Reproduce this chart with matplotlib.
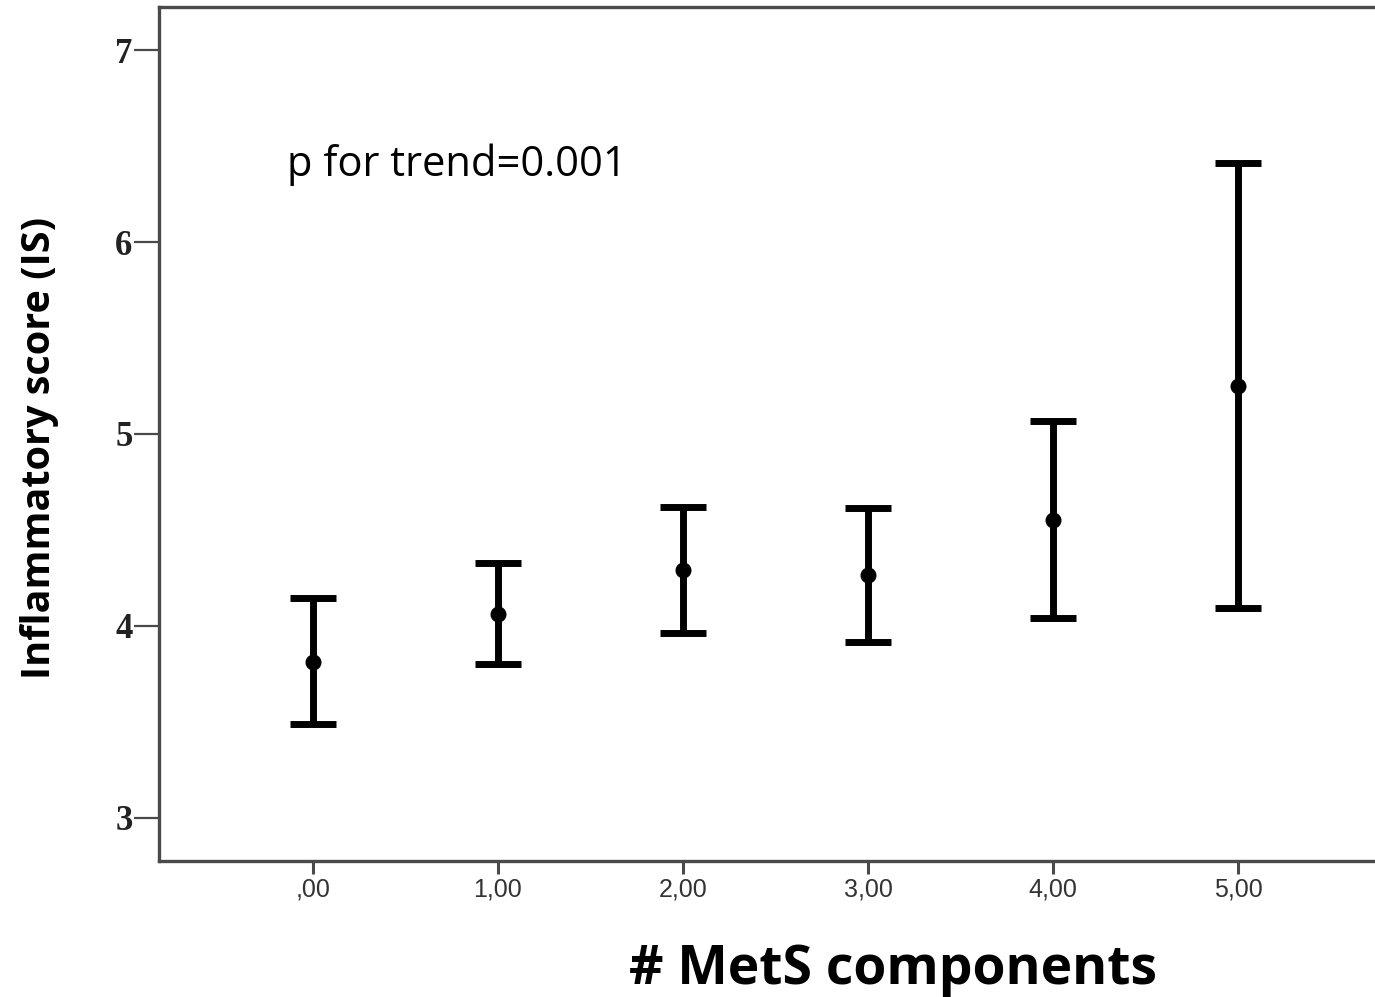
import matplotlib
matplotlib.use("Agg")
import matplotlib.pyplot as plt

# Inflammatory score by number of MetS components (mean with 95% CI)
components = [0, 1, 2, 3, 4, 5]
tick_labels = [",00", "1,00", "2,00", "3,00", "4,00", "5,00"]
means = [3.815, 4.063, 4.292, 4.266, 4.552, 5.250]
ci_lower = [3.489, 3.801, 3.962, 3.919, 4.040, 4.092]
ci_upper = [4.144, 4.326, 4.621, 4.612, 5.067, 6.410]
y_ticks = [3, 4, 5, 6, 7]

fig = plt.figure(figsize=(13.75, 9.97), dpi=100)
ax = fig.add_axes([159 / 1375, 1 - 861 / 997, (1392 - 159) / 1375, (861 - 7) / 997])

err_low = [m - lo for m, lo in zip(means, ci_lower)]
err_high = [hi - m for m, hi in zip(means, ci_upper)]
ax.errorbar(components, means, yerr=[err_low, err_high], fmt="o", color="black",
            ecolor="black", elinewidth=5, capsize=16.5, capthick=5, markersize=10.5)

ax.set_xlim(-0.832, 5.832)
ax.set_ylim(2.776, 7.224)

spine_color = "#4a4a4a"
for side in ["left", "bottom", "top"]:
    ax.spines[side].set_color(spine_color)
    ax.spines[side].set_linewidth(2.4)
ax.spines["right"].set_visible(False)

ax.set_yticks(y_ticks)
ax.set_yticklabels([str(v) for v in y_ticks], family="Liberation Serif",
                   fontweight="bold", fontsize=25, color="#222222")
ax.tick_params(axis="y", length=18, width=1.6, color=spine_color, pad=1)

ax.set_xticks(components)
ax.set_xticklabels(tick_labels, family="Liberation Sans", fontsize=18, color="#333333")
ax.tick_params(axis="x", length=9, width=2.2, color=spine_color, pad=3)

fig.text(40 / 1375, 1 - 448 / 997, "Inflammatory score (IS)", rotation=90,
         ha="center", va="center", family="Open Sans", fontweight="bold", fontsize=28.5)
fig.text(893 / 1375, 1 - 984 / 997, "# MetS components", ha="center", va="baseline",
         family="Open Sans", fontweight="bold", fontsize=38.5)
fig.text(287 / 1375, 1 - 176 / 997, "p for trend=0.001", ha="left", va="baseline",
         family="Open Sans", fontsize=30)

fig.savefig("out.png", dpi=100)
